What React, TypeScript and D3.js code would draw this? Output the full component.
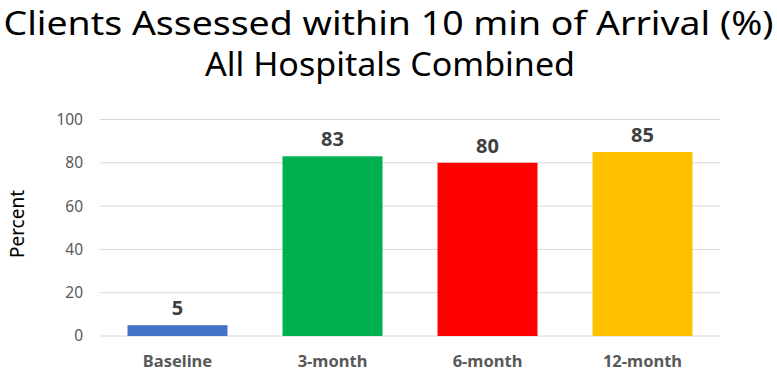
import React from 'react'
import * as d3 from 'd3'

const categories = ['Baseline', '3-month', '6-month', '12-month']
const percentValues = [5, 83, 80, 85]
const barColors = ['#4472C4', '#00B050', '#FF0000', '#FFC000']
const yTicks = [0, 20, 40, 60, 80, 100]

const titleLines = ['Clients Assessed within 10 min of Arrival (%)', 'All Hospitals Combined']
const yAxisTitle = 'Percent'

const W = 777
const H = 372
const margin = { top: 119.5, right: 57, bottom: 36, left: 100 }
const FONT = "'Noto Sans', 'Open Sans', sans-serif"

export default function App() {
  const x = d3.scaleBand()
    .domain(categories)
    .range([margin.left, W - margin.right])
    .paddingInner(0.355)
    .paddingOuter(0.1775)

  const y = d3.scaleLinear()
    .domain([0, 100])
    .range([H - margin.bottom, margin.top])

  return (
    <svg width={W} height={H} style={{ position: 'absolute', left: 0, top: 0, background: '#fff' }}>
      {/* title */}
      <text x={W / 2} y={35} textAnchor="middle" fontFamily={FONT} fontSize={32}
        textLength={770} lengthAdjust="spacingAndGlyphs" fill="#000">{titleLines[0]}</text>
      <text x={390} y={76} textAnchor="middle" fontFamily={FONT} fontSize={32}
        textLength={370} lengthAdjust="spacingAndGlyphs" fill="#000">{titleLines[1]}</text>

      {/* gridlines + y ticks */}
      {yTicks.map(t => (
        <g key={t}>
          <line x1={margin.left} x2={W - margin.right} y1={y(t)} y2={y(t)} stroke="#D9D9D9" strokeWidth={1} />
          <text x={83} y={y(t)} dy="0.35em" textAnchor="end" fontFamily={FONT} fontSize={15.5} fill="#595959">{t}</text>
        </g>
      ))}

      <text transform={`translate(24, 224) rotate(-90)`} textAnchor="middle" fontFamily={FONT}
        fontSize={19} fill="#000">{yAxisTitle}</text>

      {/* bars */}
      {categories.map((c, i) => (
        <g key={c}>
          <rect x={x(c)} y={y(percentValues[i])} width={x.bandwidth()}
            height={y(0) - y(percentValues[i])} fill={barColors[i]} />
          <text x={(x(c) ?? 0) + x.bandwidth() / 2} y={y(percentValues[i]) - 10} textAnchor="middle"
            fontFamily={FONT} fontWeight="bold" fontSize={20} fill="#404040">{percentValues[i]}</text>
          <text x={(x(c) ?? 0) + x.bandwidth() / 2} y={367} textAnchor="middle"
            fontFamily={FONT} fontWeight="bold" fontSize={16.5} fill="#595959">{c}</text>
        </g>
      ))}
    </svg>
  )
}
